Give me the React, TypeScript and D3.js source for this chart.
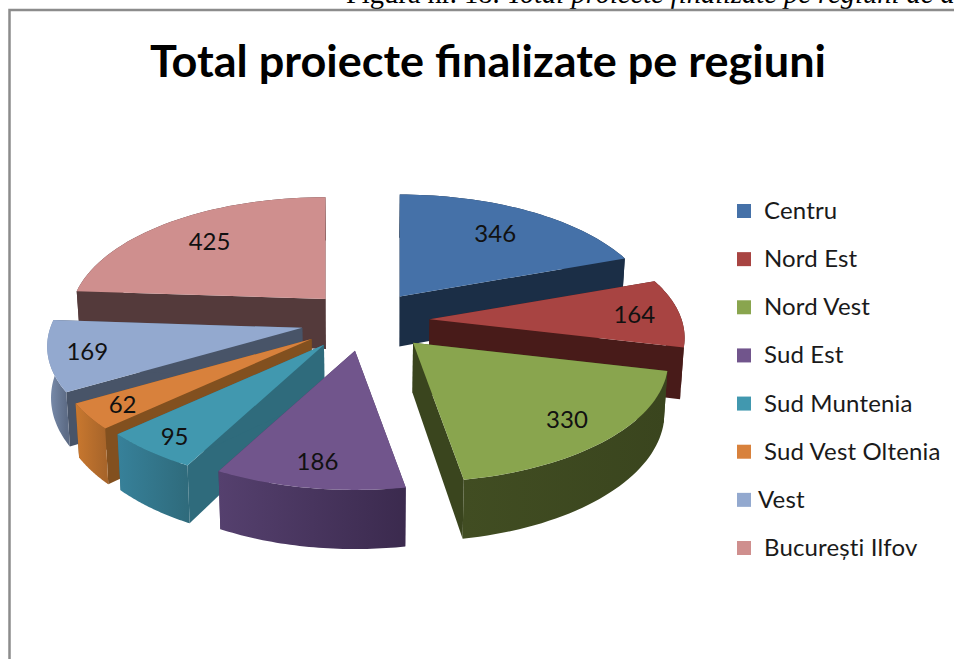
import React from "react";
import * as d3 from "d3";

const categories = ["Centru", "Nord Est", "Nord Vest", "Sud Est", "Sud Muntenia", "Sud Vest Oltenia", "Vest", "București Ilfov"];
const values = [346, 164, 330, 186, 95, 62, 169, 425];
const topColors = ["#4571a8", "#a84442", "#89a54e", "#71558c", "#4198af", "#d8813c", "#93a9cf", "#cf8f8e"];
const sideColors = ["#1b2e46", "#481b19", "#3a451e", "#4a3860", "#2f6b7c", "#82501f", "#485468", "#543a3b"];
const rimStart = ["#1b2e46", "#481b19", "#414d22", "#55406e", "#37819a", "#c9782f", "#7d90b0", "#543a3b"];
const rimEnd = ["#1b2e46", "#481b19", "#3a451e", "#3b2a4e", "#2f6b7c", "#a8652a", "#5d6c86", "#543a3b"];
const labelFractions = [0.72, 0.82, 0.81, 0.83, 0.87, 0.86, 0.85, 0.73];
const drawOrder = [0, 1, 2, 7, 6, 5, 4, 3];

const W = 954;
const H = 659;
const CX = 366;
const CY = 321;
const R = 252;
const K = 0.467;
const P = 0.155;
const EXPLODE_X = 64;
const EXPLODE_Y = 30;
const EXPLODE_PERSPECTIVE = 0.1;
const DEPTH = 50;
const SANS = "Lato, 'Open Sans', sans-serif";

const slices = d3.pie<number>().sort(null).startAngle(0).endAngle(2 * Math.PI)(values);

function apexOf(mid: number): [number, number] {
  const scale = 1 - EXPLODE_PERSPECTIVE * Math.cos(mid);
  return [CX + EXPLODE_X * Math.sin(mid) * scale, CY - EXPLODE_Y * Math.cos(mid)];
}

// Perspective projection of a disc point given in slice-local polar form
function project(apex: [number, number], angle: number, f: number, z = 0): [number, number] {
  const X = R * f * Math.sin(angle);
  const Y = -R * f * Math.cos(angle);
  const s = 1 / (1 - (P * Y) / R);
  const x = apex[0] + X * s;
  const y = apex[1] + K * Y * s + z * DEPTH * s;
  return [x - z * (x - CX) * 0.012, y];
}

const path = d3.line<[number, number]>();
const legendY = d3.scalePoint<string>().domain(categories).range([211, 548]);

export default function App() {
  return (
    <svg
      width={W}
      height={H}
      viewBox={`0 0 ${W} ${H}`}
      style={{ position: "absolute", left: 0, top: 0, display: "block", background: "#fff" }}
    >
      <defs>
        {slices.map((d, i) => {
          const apex = apexOf((d.startAngle + d.endAngle) / 2);
          const pts = d3.range(0, 21).map((t) =>
            project(apex, d.startAngle + (t / 20) * (d.endAngle - d.startAngle), 1)
          );
          const ext = d3.extent(pts, (p) => p[0]) as [number, number];
          return (
            <linearGradient key={i} id={`rim${i}`} gradientUnits="userSpaceOnUse" x1={ext[0]} x2={ext[1]} y1={0} y2={0}>
              <stop offset="0" stopColor={rimStart[i]} />
              <stop offset="1" stopColor={rimEnd[i]} />
            </linearGradient>
          );
        })}
      </defs>

      <text x={346} y={3} fontFamily="'Liberation Serif', serif" fontSize={28.5} fill="#000">
        Figura nr. 18. <tspan fontStyle="italic">Total proiecte finalizate pe regiuni de dezvoltare</tspan>
      </text>
      <path d={`M9.5 ${H}V10H${W}`} fill="none" stroke="#8c8c8c" strokeWidth={2.5} />

      <text
        x={150}
        y={77}
        textLength={676}
        lengthAdjust="spacingAndGlyphs"
        fontFamily={SANS}
        fontWeight={700}
        fontSize={43}
        fill="#000"
      >
        Total proiecte finalizate pe regiuni
      </text>

      {drawOrder.map((i) => {
        const d = slices[i];
        const mid = (d.startAngle + d.endAngle) / 2;
        const apex = apexOf(mid);
        const angles = d3.range(0, 41).map((t) => d.startAngle + (t / 40) * (d.endAngle - d.startAngle));
        const topArc = angles.map((a) => project(apex, a, 1));
        const botArc = angles.map((a) => project(apex, a, 1, 1)).reverse();
        const center = project(apex, 0, 0);
        const wall = (a: number) =>
          path([center, project(apex, a, 1), project(apex, a, 1, 1), project(apex, 0, 0, 1)]) + "Z";
        return (
          <g key={i}>
            <path d={wall(d.startAngle)} fill={sideColors[i]} />
            <path d={wall(d.endAngle)} fill={sideColors[i]} />
            <path d={path([...topArc, ...botArc]) + "Z"} fill={`url(#rim${i})`} />
            <path d={path([center, ...topArc]) + "Z"} fill={topColors[i]} />
          </g>
        );
      })}

      {slices.map((d, i) => {
        const mid = (d.startAngle + d.endAngle) / 2;
        const [x, y] = project(apexOf(mid), mid, labelFractions[i]);
        return (
          <text key={i} x={x} y={y + 9} textAnchor="middle" fontFamily={SANS} fontSize={24} fill="#111">
            {values[i]}
          </text>
        );
      })}

      {categories.map((c, i) => {
        const y = legendY(c) as number;
        return (
          <g key={c}>
            <rect x={737} y={y - 7} width={14} height={14} fill={topColors[i]} />
            <text x={c === "Vest" ? 758 : 764} y={y + 8} fontFamily={SANS} fontSize={24} letterSpacing={0.15} fill="#1a1a1a">
              {c}
            </text>
          </g>
        );
      })}
    </svg>
  );
}
